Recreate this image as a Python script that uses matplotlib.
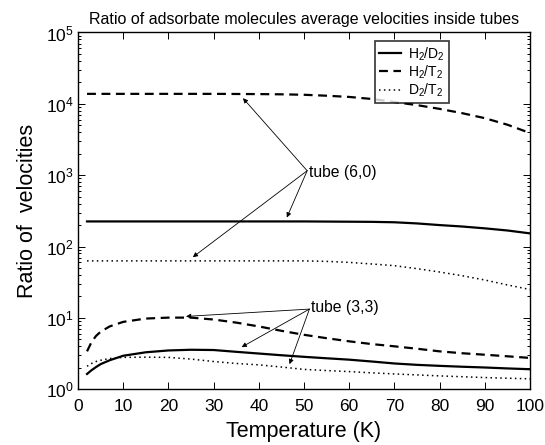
import matplotlib
matplotlib.use('Agg')
import matplotlib.pyplot as plt
import numpy as np

plt.rcParams['font.family'] = ['Liberation Sans', 'DejaVu Sans']
plt.rcParams['mathtext.fontset'] = 'custom'
plt.rcParams['mathtext.rm'] = 'Liberation Sans'
plt.rcParams['mathtext.it'] = 'Liberation Sans:italic'

# temperature (K)
temp = [2, 3, 4, 5, 7, 10, 15, 20, 25, 30, 35, 40, 45, 50, 55, 60, 65, 70, 75, 80, 85, 90, 95, 100]

# tube (6,0)
h2d2_60 = [225, 225, 225, 225, 225, 225, 225, 225, 225, 225, 225, 225, 225, 225, 224, 223, 222, 219, 211, 200, 191, 180, 168, 153]
h2t2_60 = [13800, 13800, 13800, 13800, 13800, 13800, 13800, 13800, 13800, 13800, 13750, 13700, 13600, 13400, 13000, 12500,
           11700, 10600, 9600, 8500, 7400, 6300, 5100, 3900]
d2t2_60 = [63, 63, 63, 63, 63, 63, 63, 63, 63, 63, 63, 63, 63, 63, 62, 60, 57, 54, 49, 44, 39, 34, 29, 25]

# tube (3,3)
h2d2_33 = [1.64, 1.85, 2.05, 2.25, 2.55, 2.95, 3.3, 3.5, 3.58, 3.55, 3.35, 3.17, 3.0, 2.85, 2.72, 2.6, 2.45, 2.3, 2.2,
           2.13, 2.07, 2.02, 1.96, 1.91]
h2t2_33 = [3.4, 4.6, 5.6, 6.4, 7.6, 8.8, 9.8, 10.1, 10.1, 9.5, 8.6, 7.6, 6.6, 5.8, 5.2, 4.7, 4.3, 4.0, 3.7, 3.4, 3.2,
           3.05, 2.9, 2.75]
d2t2_33 = [2.1, 2.3, 2.45, 2.55, 2.7, 2.8, 2.82, 2.8, 2.65, 2.45, 2.3, 2.2, 2.05, 1.9, 1.83, 1.77, 1.7, 1.64, 1.59,
           1.54, 1.5, 1.46, 1.43, 1.40]

labels = [r'H$_2$/D$_2$', r'H$_2$/T$_2$', r'D$_2$/T$_2$']

# arrow labels: text position and arrow tips
tube60_text = (51, 1100)
tube60_tips = [(36.5, 12000), (46.2, 255), (25.4, 71)]
tube33_text = (51.5, 14)
tube33_tips = [(23.9, 10.5), (36.2, 3.9), (46.8, 2.25)]

fig = plt.figure(figsize=(5.45, 4.45), dpi=100)
ax = fig.add_axes([0.1431, 0.1252, 0.8294, 0.8018])

dot = (0, (1, 2.2))
ax.plot(temp, h2d2_60, color='k', lw=1.6, ls='-', label=labels[0])
ax.plot(temp, h2t2_60, color='k', lw=1.6, ls=(0, (4, 2.5)), label=labels[1])
ax.plot(temp, d2t2_60, color='k', lw=1.1, ls=dot, label=labels[2])
ax.plot(temp, h2d2_33, color='k', lw=1.6, ls='-')
ax.plot(temp, h2t2_33, color='k', lw=1.6, ls=(0, (4, 2.5)))
ax.plot(temp, d2t2_33, color='k', lw=1.1, ls=dot)

ax.set_yscale('log')
ax.set_xlim(0, 100)
ax.set_ylim(1, 1e5)
ax.set_xticks(np.arange(0, 101, 10))

ax.tick_params(which='both', direction='in', top=True, right=True, labelsize=12.5, width=0.7)
ax.tick_params(which='major', length=5)
ax.tick_params(which='minor', length=2.5)
ax.tick_params(axis='x', pad=7)
ax.tick_params(axis='y', pad=3)
for s in ax.spines.values():
    s.set_linewidth(1.0)

ax.set_xlabel('Temperature (K)', fontsize=15.5, labelpad=5)
ax.set_ylabel('Ratio of  velocities', fontsize=15.5, labelpad=6)
ax.set_title('Ratio of adsorbate molecules average velocities inside tubes', fontsize=11.5, pad=6)

arrow = dict(arrowstyle='-|>', color='k', lw=0.6, mutation_scale=7, shrinkA=0, shrinkB=0)
ax.text(tube60_text[0], tube60_text[1], 'tube (6,0)', fontsize=11.3, va='center', ha='left')
for tip in tube60_tips:
    ax.annotate('', xy=tip, xytext=(tube60_text[0] - 0.3, tube60_text[1] * 1.05), arrowprops=arrow)
ax.text(tube33_text[0], tube33_text[1], 'tube (3,3)', fontsize=11.3, va='center', ha='left')
for tip in tube33_tips:
    ax.annotate('', xy=tip, xytext=(tube33_text[0] - 0.3, tube33_text[1] * 0.95), arrowprops=arrow)

leg = ax.legend(loc='upper right', bbox_to_anchor=(0.821, 0.976), borderaxespad=0, fontsize=10,
                handlelength=1.6, handletextpad=0.5, labelspacing=0.05, borderpad=0.3,
                fancybox=False, frameon=True, edgecolor='k')
leg.get_frame().set_linewidth(1.2)

fig.savefig('out.png', dpi=100)
